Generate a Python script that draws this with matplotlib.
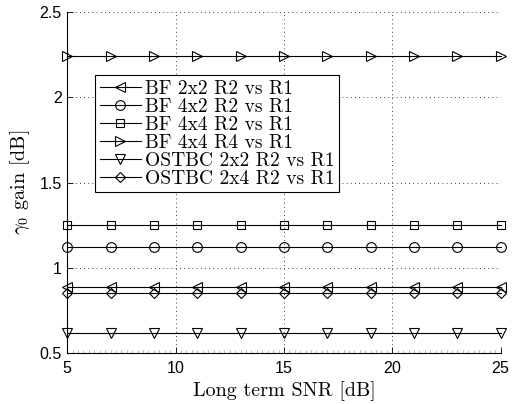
import matplotlib
matplotlib.use("Agg")
import matplotlib.pyplot as plt
from matplotlib.ticker import MultipleLocator
import numpy as np

# データ
snr = [5, 7, 9, 11, 13, 15, 17, 19, 21, 23, 25]
labels = ["BF 2x2 R2 vs R1", "BF 4x2 R2 vs R1", "BF 4x4 R2 vs R1",
          "BF 4x4 R4 vs R1", "OSTBC 2x2 R2 vs R1", "OSTBC 2x4 R2 vs R1"]
bf22 = [0.885] * 11
bf42 = [1.123] * 11
bf44_r2 = [1.25] * 11
bf44_r4 = [2.242] * 11
ostbc22 = [0.615] * 11
ostbc24 = [0.85] * 11
series = [bf22, bf42, bf44_r2, bf44_r4, ostbc22, ostbc24]
markers = ["<", "o", "s", ">", "v", "D"]
msizes = [7, 7, 6, 7, 7, 5.5]

serif = "cmr10"
plt.rcParams["mathtext.fontset"] = "cm"
plt.rcParams["axes.formatter.use_mathtext"] = True

fig = plt.figure(figsize=(5.13, 4.04), dpi=100)
ax = fig.add_axes([0.131, 0.126, 0.845, 0.844])

for y, lab, mk, ms in zip(series, labels, markers, msizes):
    ax.plot(snr, y, color="k", lw=0.8, marker=mk, ms=ms, mfc="none",
            mec="k", mew=0.8, label=lab, clip_on=False, zorder=3)

ax.set_xlim(5, 25)
ax.set_ylim(0.5, 2.5)
ax.set_xticks([5, 10, 15, 20, 25])
ax.set_yticks([0.5, 1, 1.5, 2, 2.5])
ax.set_yticklabels(["0.5", "1", "1.5", "2", "2.5"])
ax.xaxis.set_minor_locator(MultipleLocator(0.25))
ax.tick_params(which="major", direction="in", length=4, width=0.6,
               labelsize=11.5)
ax.tick_params(axis="x", which="major", pad=5)
ax.tick_params(axis="y", which="major", pad=4)
ax.tick_params(which="minor", axis="x", direction="in", length=2, width=0.4,
               color="0.5")
for t in ax.get_xticklabels() + ax.get_yticklabels():
    t.set_fontfamily("Liberation Sans")

ax.spines["top"].set_visible(False)
ax.spines["right"].set_visible(False)
ax.spines["left"].set_linewidth(0.8)
ax.spines["bottom"].set_linewidth(0.8)
ax.grid(True, which="major", linestyle=(0, (1, 4)), color="k", lw=0.6)

ax.set_xlabel("Long term SNR [dB]", fontfamily=serif, fontsize=14.5, labelpad=4)
ax.set_ylabel(r"$\gamma_0$ gain [dB]", fontfamily=serif, fontsize=14.5,
              labelpad=5)

leg = ax.legend(loc="upper left", bbox_to_anchor=(0.064, 0.815),
                prop={"family": serif, "size": 14}, numpoints=1,
                handlelength=2.1, handletextpad=0.2, labelspacing=0.0,
                borderpad=0.25, borderaxespad=0, fancybox=False,
                framealpha=1, edgecolor="k")
leg.get_frame().set_linewidth(0.8)
leg.set_zorder(5)

fig.savefig("out.png", dpi=100)
